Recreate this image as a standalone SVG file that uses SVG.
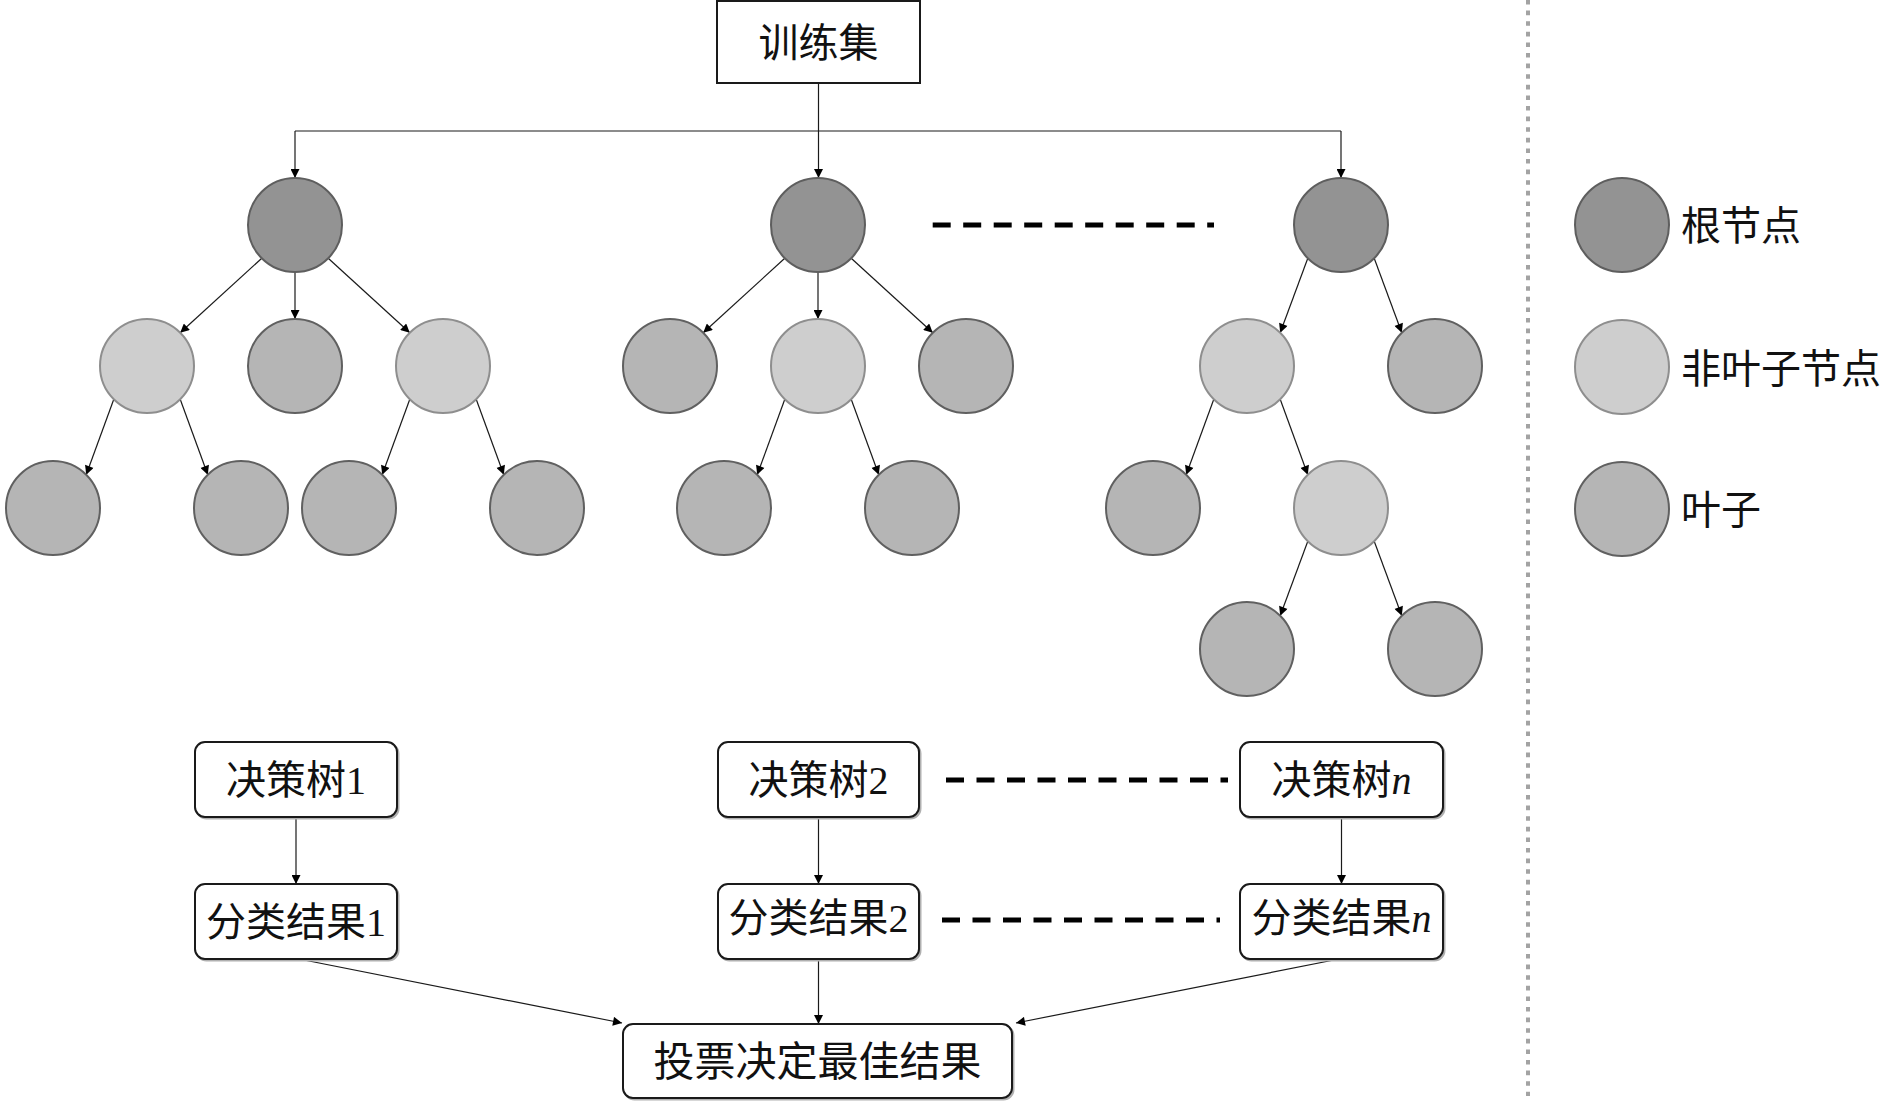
<svg xmlns="http://www.w3.org/2000/svg" width="1890" height="1101" viewBox="0 0 1890 1101">
<style>
.root{fill:#939393;stroke:#5e5e5e;stroke-width:2}
.inner{fill:#cecece;stroke:#8e8e8e;stroke-width:2}
.leaf{fill:#b5b5b5;stroke:#606060;stroke-width:2}
.edge{fill:none;stroke:#1a1a1a;stroke-width:1.2;marker-end:url(#arr)}
.plain{fill:none;stroke:#1a1a1a;stroke-width:1.2}
.box{fill:#fff;stroke:#1a1a1a;stroke-width:2}
.shadow{fill:none;stroke:#b0b0b0;stroke-width:2}
.dash{fill:none;stroke:#000;stroke-width:5;stroke-dasharray:18 12.5}
.t{font-family:"Liberation Serif","Noto Sans CJK SC",serif;font-size:40px;fill:#111;text-anchor:middle}
.lg{font-family:"Liberation Serif","Noto Sans CJK SC",serif;font-size:40px;fill:#111}
</style>
<defs>
<marker id="arr" viewBox="0 0 10 10" refX="10" refY="5" markerWidth="11" markerHeight="9" markerUnits="userSpaceOnUse" orient="auto">
<path d="M0,0 L10,5 L0,10 z" fill="#000"/>
</marker>
</defs>
<rect width="1890" height="1101" fill="#fff"/>

<!-- separator -->
<line x1="1528" y1="0" x2="1528" y2="1096" stroke="#a3a3a3" stroke-width="4" stroke-dasharray="4.6 6"/>

<!-- dashed ellipses lines -->
<g id="dashes">
<line class="dash" x1="932.7" y1="225" x2="1214" y2="225"/>
<line class="dash" x1="946" y1="780" x2="1228" y2="780"/>
<line class="dash" x1="942" y1="920" x2="1220" y2="920"/>
</g>

<g id="connectors">
<path class="edge" d="M818.5,83 V178"/>
<path class="plain" d="M295,131 H1341"/>
<path class="edge" d="M295,131 V178"/>
<path class="edge" d="M1341,131 V178"/>
<!-- tree 1 -->
<path class="edge" d="M261.8,258.2 L180.2,332.8"/>
<path class="edge" d="M295,272 L295,319"/>
<path class="edge" d="M328.2,258.2 L409.8,332.8"/>
<path class="edge" d="M113.8,399.2 L86.2,474.8"/>
<path class="edge" d="M180.2,399.2 L207.8,474.8"/>
<path class="edge" d="M409.8,399.2 L382.2,474.8"/>
<path class="edge" d="M476.2,399.2 L503.8,474.8"/>
<!-- tree 2 -->
<path class="edge" d="M784.8,258.2 L703.2,332.8"/>
<path class="edge" d="M818,272 L818,319"/>
<path class="edge" d="M851.2,258.2 L932.8,332.8"/>
<path class="edge" d="M784.8,399.2 L757.2,474.8"/>
<path class="edge" d="M851.2,399.2 L878.8,474.8"/>
<!-- tree 3 -->
<path class="edge" d="M1307.8,258.2 L1280.2,332.8"/>
<path class="edge" d="M1374.2,258.2 L1401.8,332.8"/>
<path class="edge" d="M1213.8,399.2 L1186.2,474.8"/>
<path class="edge" d="M1280.2,399.2 L1307.8,474.8"/>
<path class="edge" d="M1307.8,541.2 L1280.2,615.8"/>
<path class="edge" d="M1374.2,541.2 L1401.8,615.8"/>
<!-- lower flow -->
<path class="edge" d="M296,817 V884"/>
<path class="edge" d="M818.5,817 V884"/>
<path class="edge" d="M1341.5,817 V884"/>
<path class="edge" d="M299,959 L622,1023"/>
<path class="edge" d="M818.5,959 V1024"/>
<path class="edge" d="M1339,959 L1016,1023"/>
</g>

<g id="train">
<rect class="box" x="717" y="1" width="203" height="82"/>
<text class="t" x="818.5" y="57">训练集</text>
</g>

<g id="tree1">
<circle class="root" cx="295" cy="225" r="47"/>
<circle class="inner" cx="147" cy="366" r="47"/>
<circle class="leaf" cx="295" cy="366" r="47"/>
<circle class="inner" cx="443" cy="366" r="47"/>
<circle class="leaf" cx="53" cy="508" r="47"/>
<circle class="leaf" cx="241" cy="508" r="47"/>
<circle class="leaf" cx="349" cy="508" r="47"/>
<circle class="leaf" cx="537" cy="508" r="47"/>
</g>
<g id="tree2">
<circle class="root" cx="818" cy="225" r="47"/>
<circle class="leaf" cx="670" cy="366" r="47"/>
<circle class="inner" cx="818" cy="366" r="47"/>
<circle class="leaf" cx="966" cy="366" r="47"/>
<circle class="leaf" cx="724" cy="508" r="47"/>
<circle class="leaf" cx="912" cy="508" r="47"/>
</g>
<g id="tree3">
<circle class="root" cx="1341" cy="225" r="47"/>
<circle class="inner" cx="1247" cy="366" r="47"/>
<circle class="leaf" cx="1435" cy="366" r="47"/>
<circle class="leaf" cx="1153" cy="508" r="47"/>
<circle class="inner" cx="1341" cy="508" r="47"/>
<circle class="leaf" cx="1247" cy="649" r="47"/>
<circle class="leaf" cx="1435" cy="649" r="47"/>
</g>

<g id="legend">
<circle class="root" cx="1622" cy="225" r="47"/>
<text class="lg" x="1681" y="240">根节点</text>
<circle class="inner" cx="1622" cy="367" r="47"/>
<text class="lg" x="1681" y="383">非叶子节点</text>
<circle class="leaf" cx="1622" cy="509" r="47"/>
<text class="lg" x="1681" y="524">叶子</text>
</g>

<g id="dt1">
<rect class="shadow" x="196.5" y="743.5" width="202" height="75" rx="10"/>
<rect class="box" x="195" y="742" width="202" height="75" rx="10"/>
<text class="t" x="296" y="794">决策树1</text>
</g>
<g id="dt2">
<rect class="shadow" x="719.5" y="743.5" width="201" height="75" rx="10"/>
<rect class="box" x="718" y="742" width="201" height="75" rx="10"/>
<text class="t" x="818.5" y="794">决策树2</text>
</g>
<g id="dtn">
<rect class="shadow" x="1241.5" y="743.5" width="203" height="75" rx="10"/>
<rect class="box" x="1240" y="742" width="203" height="75" rx="10"/>
<text class="t" x="1341.5" y="794">决策树<tspan font-style="italic">n</tspan></text>
</g>
<g id="cr1">
<rect class="shadow" x="196.5" y="885.5" width="202" height="75" rx="10"/>
<rect class="box" x="195" y="884" width="202" height="75" rx="10"/>
<text class="t" x="296" y="936">分类结果1</text>
</g>
<g id="cr2">
<rect class="shadow" x="719.5" y="885.5" width="201" height="75" rx="10"/>
<rect class="box" x="718" y="884" width="201" height="75" rx="10"/>
<text class="t" x="818.5" y="932">分类结果2</text>
</g>
<g id="crn">
<rect class="shadow" x="1241.5" y="885.5" width="203" height="75" rx="10"/>
<rect class="box" x="1240" y="884" width="203" height="75" rx="10"/>
<text class="t" x="1341.5" y="932">分类结果<tspan font-style="italic">n</tspan></text>
</g>
<g id="vote">
<rect class="shadow" x="624.5" y="1025.5" width="389" height="74" rx="10"/>
<rect class="box" x="623" y="1024" width="389" height="74" rx="10"/>
<text class="t" x="817.5" y="1076" style="font-size:41px">投票决定最佳结果</text>
</g>
</svg>
